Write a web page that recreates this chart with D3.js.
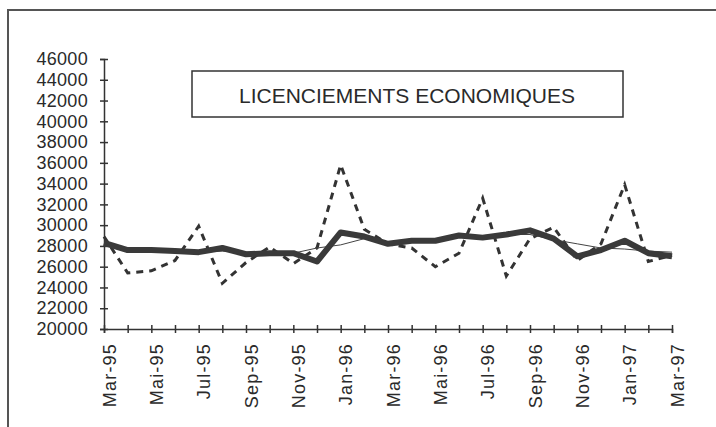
<!DOCTYPE html>
<html>
<head>
<meta charset="utf-8">
<script src="https://cdn.jsdelivr.net/npm/d3@7"></script>
<style>
  body { margin: 0; background: #ffffff; }
  text { font-family: "Liberation Sans", Arial, sans-serif; fill: #2a2a2a; }
</style>
</head>
<body>
<div id="vis-container"></div>
<script>
// chart size (the whole window)
const width = 716;
const height = 427;
const margin = {left: 104, right: 44, top: 59, bottom: 98};

// months on the x axis, one point per month
const months = ["Mar-95", "Avr-95", "Mai-95", "Jun-95", "Jul-95", "Aou-95", "Sep-95", "Oct-95",
                "Nov-95", "Dec-95", "Jan-96", "Fev-96", "Mar-96", "Avr-96", "Mai-96", "Jun-96",
                "Jul-96", "Aou-96", "Sep-96", "Oct-96", "Nov-96", "Dec-96", "Jan-97", "Fev-97", "Mar-97"];

// raw monthly values (dashed line)
const brut = [28900, 25400, 25600, 26600, 29900, 24400, 26400, 27900, 26300, 27800, 35800, 29600,
              28200, 27800, 26000, 27300, 32600, 25100, 28700, 29800, 26600, 28200, 33900, 26500, 27100];

// smoothed values (thick line)
const lisse = [28300, 27600, 27600, 27500, 27400, 27800, 27200, 27300, 27300, 26500, 29300, 28900,
               28200, 28500, 28500, 29000, 28800, 29100, 29500, 28700, 27000, 27600, 28500, 27300, 27000];

// trend (thin line)
const tendance = [28000, 27600, 27500, 27500, 27400, 27500, 27400, 27300, 27300, 27800, 28100, 28700,
                  28400, 28500, 28600, 28900, 29000, 29100, 29100, 28600, 28200, 27800, 27700, 27500, 27400];

const yTicks = d3.range(20000, 46001, 2000);
const title = "LICENCIEMENTS ECONOMIQUES";

const svg = d3.select("#vis-container")
  .append("svg")
  .attr("width", width)
  .attr("height", height);

// outer frame of the scanned chart
svg.append("rect")
  .attr("x", 8)
  .attr("y", 10)
  .attr("width", 730)
  .attr("height", 440)
  .attr("fill", "none")
  .attr("stroke", "#555")
  .attr("stroke-width", 2);

const xScale = d3.scalePoint()
  .domain(months)
  .range([margin.left, width - margin.right]);

const yScale = d3.scaleLinear()
  .domain([20000, 46000])
  .range([height - margin.bottom, margin.top]);

// y axis, ticks cross the line
const yAxis = svg.append("g")
  .attr("transform", `translate(${margin.left},0)`)
  .call(d3.axisLeft(yScale).tickValues(yTicks).tickSize(4).tickPadding(12).tickFormat(d3.format("d")));
yAxis.select(".domain").attr("stroke", "#333").attr("stroke-width", 1.5);
yAxis.selectAll(".tick line").attr("x1", 4).attr("x2", -4).attr("stroke", "#333").attr("stroke-width", 1.5);
yAxis.selectAll(".tick text")
  .attr("font-size", "18px")
  .attr("fill", "#2a2a2a")
  .style("letter-spacing", "0.3px");

// x axis, label every second month
const xAxis = svg.append("g")
  .attr("transform", `translate(0,${height - margin.bottom})`)
  .call(d3.axisBottom(xScale).tickSize(4).tickFormat((d, i) => i % 2 ? "" : d));
xAxis.select(".domain").attr("stroke", "#333").attr("stroke-width", 1.5);
xAxis.selectAll(".tick line").attr("y1", -4).attr("y2", 4).attr("stroke", "#333").attr("stroke-width", 1.5);
xAxis.selectAll(".tick text")
  .attr("font-size", "18px")
  .attr("fill", "#2a2a2a")
  .attr("transform", "rotate(-90)")
  .attr("text-anchor", "end")
  .attr("x", -14)
  .attr("y", 5)
  .attr("dy", "0.35em")
  .style("letter-spacing", "1.2px");

// title box
svg.append("rect")
  .attr("x", 192)
  .attr("y", 71)
  .attr("width", 431)
  .attr("height", 46)
  .attr("fill", "#fff")
  .attr("stroke", "#333")
  .attr("stroke-width", 1.5);

svg.append("text")
  .attr("x", 407)
  .attr("y", 103)
  .attr("text-anchor", "middle")
  .attr("font-size", "21px")
  .text(title);

const line = d3.line()
  .x((d, i) => xScale(months[i]))
  .y(d => yScale(d));

// dashed raw series
svg.append("path")
  .datum(brut)
  .attr("fill", "none")
  .attr("stroke", "#333")
  .attr("stroke-width", 3)
  .attr("stroke-dasharray", "7,6")
  .attr("d", line);

// trend, thin
svg.append("path")
  .datum(tendance)
  .attr("fill", "none")
  .attr("stroke", "#444")
  .attr("stroke-width", 1)
  .attr("d", line);

// smoothed, thick
svg.append("path")
  .datum(lisse)
  .attr("fill", "none")
  .attr("stroke", "#3a3a3a")
  .attr("stroke-width", 6)
  .attr("stroke-linejoin", "round")
  .attr("d", line);
</script>
</body>
</html>
